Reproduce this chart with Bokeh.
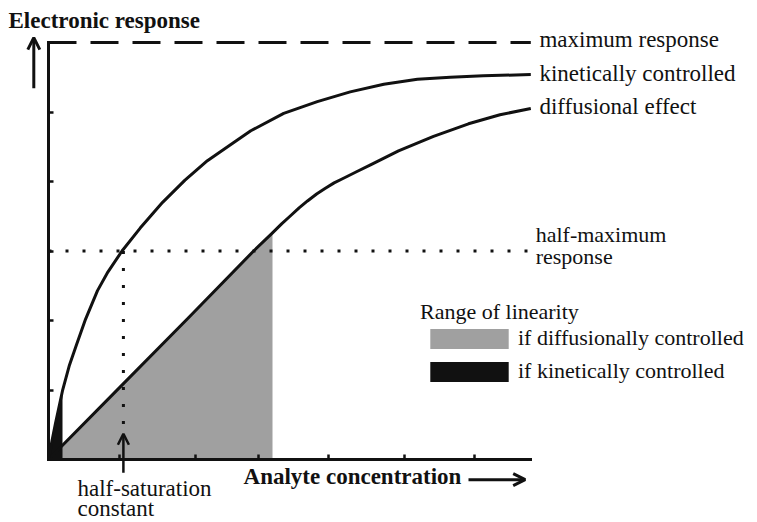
from bokeh.plotting import figure
from bokeh.models import (Range1d, LinearAxis, FixedTicker, Label, Arrow, OpenHead,
                          Legend, LegendItem, CustomJSTickFormatter)
from bokeh.embed import file_html
from bokeh.resources import INLINE

# Response curves (analyte concentration -> electronic response, arbitrary units)
kinetic_x = [0, 0.05, 0.1, 0.2, 0.3, 0.4, 0.53, 0.7, 0.85, 1.05, 1.31, 1.63, 1.95,
             2.27, 2.6, 2.89, 3.36, 3.84, 4.31, 4.79, 5.27, 5.74, 6.21, 6.89]
kinetic_y = [0, 0.27, 0.52, 0.99, 1.36, 1.65, 2.02, 2.43, 2.70, 3.0, 3.33, 3.70, 4.02,
             4.30, 4.53, 4.73, 4.98, 5.15, 5.29, 5.40, 5.47, 5.50, 5.52, 5.54]

diffusion_x = [0, 1.0, 2.0, 2.93, 3.2, 3.33, 3.45, 3.58, 3.7, 3.83, 3.95, 4.08, 4.2,
               4.4, 4.6, 5.0, 5.5, 6.0, 6.45, 6.89]
diffusion_y = [0, 1.02, 2.04, 3.0, 3.26, 3.39, 3.5, 3.62, 3.72, 3.82, 3.9, 3.98, 4.04,
               4.14, 4.24, 4.44, 4.65, 4.83, 4.96, 5.05]

max_response = 6.0
half_max = 3.0
half_saturation = 1.07
linear_limit_diffusion = 3.2
linear_limit_kinetic = 0.2

x_ticks = [1.01, 2.1, 3.0, 4.0, 5.09, 6.09]
y_ticks = [1, 2, 3, 4, 5, 6]
x_end = 6.89

SERIF = "Liberation Serif"
INK = "#111111"
GRAY = "#a0a0a0"

p = figure(width=757, height=522, output_backend="svg", toolbar_location=None,
           x_range=Range1d(-48 / 70, 709 / 70), y_range=Range1d(-63 / 69.5, 459 / 69.5),
           x_axis_type=None, y_axis_type=None, min_border=0,
           outline_line_color=None, background_fill_color="white",
           border_fill_color="white")

# shaded ranges of linearity
gx = [x for x in diffusion_x if x <= linear_limit_diffusion]
gy = diffusion_y[:len(gx)]
gray = p.varea(x=gx, y1=[0] * len(gx), y2=gy, fill_color=GRAY)

kx = [x for x in kinetic_x if x <= linear_limit_kinetic]
ky = kinetic_y[:len(kx)]
black = p.varea(x=kx, y1=[0] * len(kx), y2=ky, fill_color=INK)

# reference lines
p.line([0, x_end], [max_response, max_response], line_color=INK, line_width=3,
       line_dash="28 14")
p.line([0, 6.96], [half_max, half_max], line_color=INK, line_width=3, line_dash="3 14")
p.line([half_saturation, half_saturation], [half_max, 0.5], line_color=INK,
       line_width=3, line_dash="3 14")

# response curves
p.line(diffusion_x, diffusion_y, line_color=INK, line_width=3, line_join="round")
p.line(kinetic_x, kinetic_y, line_color=INK, line_width=3, line_join="round")

# axes through the origin, ticks pointing inward, no numbers
axis_style = dict(fixed_location=0, axis_line_width=3, axis_line_color=INK,
                  axis_line_cap="square",
                  major_tick_line_width=2.5, major_tick_line_color=INK,
                  major_tick_in=5, major_tick_out=0, minor_tick_line_color=None,
                  major_label_standoff=0)
xaxis = LinearAxis(bounds=(0, x_end), ticker=FixedTicker(ticks=x_ticks),
                   formatter=CustomJSTickFormatter(code="return ''"), **axis_style)
yaxis = LinearAxis(bounds=(0, max_response), ticker=FixedTicker(ticks=y_ticks),
                   formatter=CustomJSTickFormatter(code="return ''"), **axis_style)
p.add_layout(xaxis, "below")
p.add_layout(yaxis, "left")

# arrows
p.add_layout(Arrow(end=OpenHead(size=12, line_width=3, line_color=INK),
                   x_start=-0.21, y_start=5.34, x_end=-0.21, y_end=6.07,
                   line_width=3, line_color=INK))
p.add_layout(Arrow(end=OpenHead(size=12, line_width=3, line_color=INK),
                   x_start=6.0, y_start=-0.29, x_end=6.81, y_end=-0.29,
                   line_width=3, line_color=INK))
p.add_layout(Arrow(end=OpenHead(size=11, line_width=2.5, line_color=INK),
                   x_start=half_saturation, y_start=-0.19,
                   x_end=half_saturation, y_end=0.37,
                   line_width=2.5, line_color=INK))

LIFT = 0.1  # baseline correction for the serif labels


def label(x, y, text, size="23px", bold=False):
    p.add_layout(Label(x=x, y=y + LIFT, text=text, text_font=SERIF, text_font_size=size,
                       text_font_style="bold" if bold else "normal",
                       text_color=INK, text_baseline="alphabetic"))


label(-0.571, 6.216, "Electronic response", bold=True)
label(2.786, -0.345, "Analyte concentration", bold=True)
label(7.014, 5.94, "maximum response")
label(7.014, 5.45, "kinetically controlled")
label(7.014, 4.98, "diffusional effect")
label(6.96, 3.14, "half-maximum", size="22px")
label(6.96, 2.82, "response", size="22px")
label(0.414, -0.518, "half-saturation")
label(0.414, -0.81, "constant")

legend = Legend(
    items=[LegendItem(label="if diffusionally controlled", renderers=[gray]),
           LegendItem(label="if kinetically controlled", renderers=[black])],
    title="Range of linearity", location=(420, 138),
    padding=0, margin=0, spacing=7, title_standoff=0,
    glyph_width=98, glyph_height=25, label_height=21, label_standoff=0,
    label_text_font=SERIF, label_text_font_size="22px", label_text_color=INK,
    title_text_font=SERIF, title_text_font_size="22px", title_text_font_style="normal",
    title_text_color=INK, background_fill_alpha=0, border_line_color=None)
p.add_layout(legend)

open("out.html", "w").write(file_html(p, INLINE))
